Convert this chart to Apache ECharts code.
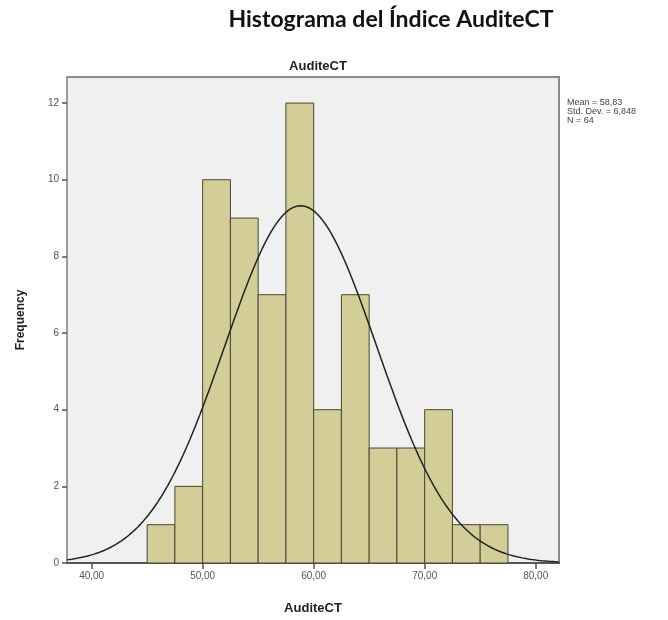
<!DOCTYPE html>
<html>
<head>
<meta charset="utf-8">
<script src="https://cdn.jsdelivr.net/npm/echarts@6/dist/echarts.min.js"></script>
<style>html,body{margin:0;padding:0;background:#fff}#c{width:668px;height:620px}</style>
</head>
<body>
<div id="c"></div>
<script>
// Histogram bins (lower edge, upper edge) and counts
var binStarts = [45, 47.5, 50, 52.5, 55, 57.5, 60, 62.5, 65, 67.5, 70, 72.5, 75];
var binWidth = 2.5;
var counts = [1, 2, 10, 9, 7, 12, 4, 7, 3, 3, 4, 1, 1];
// Summary statistics shown by the chart
var meanVal = 58.83;
var stdDev = 6.848;
var nVal = 64;
// Axis tick values
var xTicks = [40, 50, 60, 70, 80];
var yTicks = [0, 2, 4, 6, 8, 10, 12];
var xMin = 37.78, xMax = 82.1, yMax = 12.68;

// Fitted normal curve (scaled to the histogram) from the stated mean / std. dev.
var curve = [];
for (var i = 0; i <= 200; i++) {
  var x = xMin + (xMax - xMin) * i / 200;
  var z = (x - meanVal) / stdDev;
  curve.push([x, nVal * binWidth * Math.exp(-0.5 * z * z) / (stdDev * Math.sqrt(2 * Math.PI))]);
}
var barData = binStarts.map(function (s, k) { return [s, s + binWidth, counts[k]]; });

function fmt(v) { return v.toFixed(2).replace('.', ','); }

var chart = echarts.init(document.getElementById('c'), null, {renderer: 'canvas'});
chart.setOption({
  animation: false,
  backgroundColor: '#ffffff',
  title: [
    {text: 'Histograma del Índice AuditeCT', left: 386, top: 3, textAlign: 'center',
     textStyle: {fontFamily: 'Lato', fontWeight: 'bold', fontSize: 23, color: '#111'}},
    {text: 'AuditeCT', left: 313, top: 55, textAlign: 'center',
     textStyle: {fontFamily: 'Liberation Sans', fontWeight: 'bold', fontSize: 13, color: '#222'}}
  ],
  graphic: [{
    type: 'text', left: 567, top: 98,
    style: {text: 'Mean = ' + fmt(meanVal) + '\nStd. Dev. = ' + stdDev.toFixed(3).replace('.', ',') + '\nN = ' + nVal,
      fontFamily: 'Liberation Sans', fontSize: 9, lineHeight: 9, fill: '#444'}
  }],
  grid: {left: 67, top: 77, width: 492, height: 488, show: true, backgroundColor: '#f0f0f0',
         borderColor: '#8a8a8a', borderWidth: 2},
  xAxis: {
    type: 'value', min: xMin, max: xMax,
    name: 'AuditeCT', nameLocation: 'middle', nameGap: 39,
    nameTextStyle: {fontFamily: 'Liberation Sans', fontWeight: 'bold', fontSize: 13, color: '#222'},
    axisLine: {show: true, lineStyle: {color: '#555', width: 2}},
    axisTick: {show: true, length: 6, customValues: xTicks, lineStyle: {color: '#555', width: 1.5}},
    axisLabel: {customValues: xTicks, formatter: function (v) { return fmt(v); }, margin: 8,
      fontFamily: 'Liberation Sans', fontSize: 10, color: '#555'},
    splitLine: {show: false}
  },
  yAxis: {
    type: 'value', min: 0, max: yMax,
    name: 'Frequency', nameLocation: 'middle', nameGap: 40, nameRotate: 90,
    nameTextStyle: {fontFamily: 'Liberation Sans', fontWeight: 'bold', fontSize: 12, color: '#222'},
    axisLine: {show: true, lineStyle: {color: '#9a9a9a', width: 2}},
    axisTick: {show: true, length: 5, customValues: yTicks, lineStyle: {color: '#555', width: 1.5}},
    axisLabel: {customValues: yTicks, margin: 8, fontFamily: 'Liberation Sans', fontSize: 10, color: '#555'},
    splitLine: {show: false}
  },
  series: [
    {
      type: 'custom', data: barData, encode: {x: [0, 1], y: 2},
      renderItem: function (params, api) {
        var p0 = api.coord([api.value(0), 0]);
        var p1 = api.coord([api.value(1), api.value(2)]);
        return {type: 'rect', shape: {x: p0[0], y: p1[1], width: p1[0] - p0[0], height: p0[1] - p1[1]},
          style: {fill: '#d3ce97', stroke: '#4a4632', lineWidth: 1}};
      },
      z: 2
    },
    {
      type: 'line', data: curve, showSymbol: false, smooth: false,
      lineStyle: {color: '#222', width: 1.5}, z: 3
    }
  ]
});
</script>
</body>
</html>
